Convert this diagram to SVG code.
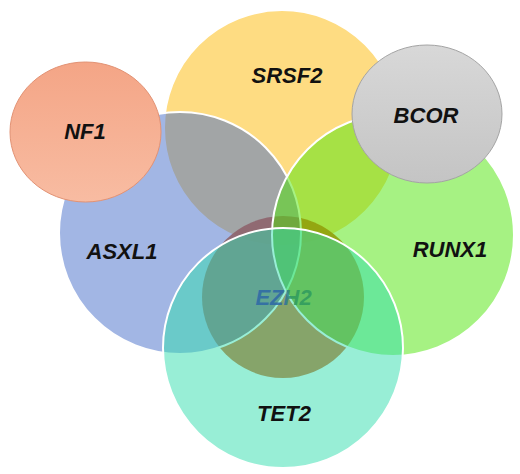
<svg xmlns="http://www.w3.org/2000/svg" width="520" height="474" viewBox="0 0 520 474">
  <style>
    .set { stroke: #ffffff; stroke-width: 2; }
    .lbl { font-family: "Liberation Sans", Arial, sans-serif; font-size: 22px; font-weight: bold; font-style: italic; fill: #111111; text-anchor: middle; }
  </style>
  <defs>
    <linearGradient id="gNF1" x1="0" y1="0" x2="0" y2="1">
      <stop offset="0" stop-color="#f4a586"/>
      <stop offset="1" stop-color="#f8bca2"/>
    </linearGradient>
    <linearGradient id="gBCOR" x1="0" y1="0" x2="0" y2="1">
      <stop offset="0" stop-color="#d8d8d8"/>
      <stop offset="1" stop-color="#c4c4c4"/>
    </linearGradient>
    <linearGradient id="gEZH2" gradientUnits="userSpaceOnUse" x1="284" y1="0" x2="292" y2="0">
      <stop offset="0" stop-color="#2d68a6"/>
      <stop offset="1" stop-color="#2f9a5e"/>
    </linearGradient>
  </defs>
  <rect width="520" height="474" fill="#ffffff"/>
  <g id="SRSF2">
    <circle class="set" cx="282" cy="128" r="118" fill="#fdb905" fill-opacity="0.5"/>
  </g>
  <g id="EZH2">
    <circle cx="283" cy="297" r="81" fill="#d65a10" fill-opacity="0.9"/>
  </g>
  <g id="ASXL1">
    <circle class="set" cx="180" cy="233" r="121" fill="#456dc9" fill-opacity="0.5"/>
  </g>
  <g id="RUNX1">
    <circle class="set" cx="393" cy="235" r="121" fill="#4de507" fill-opacity="0.5"/>
  </g>
  <g id="TET2">
    <circle class="set" cx="283" cy="348" r="120" fill="#31ddad" fill-opacity="0.5"/>
  </g>
  <g id="NF1">
    <ellipse cx="85.5" cy="132" rx="75.5" ry="70" fill="url(#gNF1)" stroke="#e29274" stroke-width="1"/>
  </g>
  <g id="BCOR">
    <ellipse cx="427" cy="114" rx="75" ry="69" fill="url(#gBCOR)" stroke="#a4a4a4" stroke-width="1"/>
  </g>
  <g id="labels">
    <text class="lbl" x="287" y="83">SRSF2</text>
    <text class="lbl" x="85" y="139">NF1</text>
    <text class="lbl" x="426" y="123">BCOR</text>
    <text class="lbl" x="122" y="259">ASXL1</text>
    <text class="lbl" x="450" y="257">RUNX1</text>
    <text class="lbl" x="284" y="421">TET2</text>
    <text class="lbl" x="283.5" y="305" style="fill:url(#gEZH2)" fill-opacity="0.85">EZH2</text>
  </g>
  <g id="connectors"></g>
</svg>
